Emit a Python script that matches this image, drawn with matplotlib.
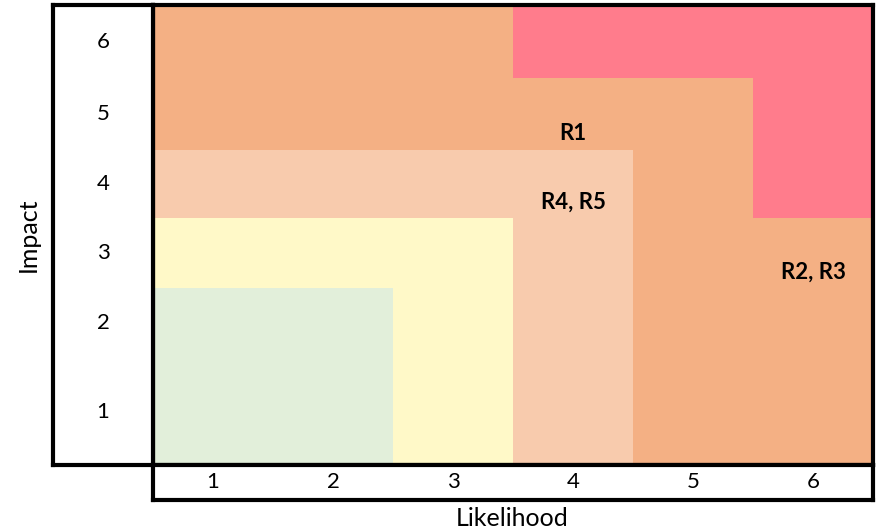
import matplotlib.pyplot as plt
import numpy as np
from matplotlib.colors import ListedColormap

# risk matrix: likelihood (x) vs impact (y)
likelihood = [1, 2, 3, 4, 5, 6]
impact = [1, 2, 3, 4, 5, 6]

# risk level per cell, rows = impact 1..6 (bottom to top), cols = likelihood 1..6
# 0 green, 1 yellow, 2 light peach, 3 peach, 4 red
levels = [
    [0, 0, 1, 2, 3, 3],
    [0, 0, 1, 2, 3, 3],
    [1, 1, 1, 2, 3, 3],
    [2, 2, 2, 2, 3, 4],
    [3, 3, 3, 3, 3, 4],
    [3, 3, 3, 4, 4, 4],
]

risk_labels = ["R1", "R4, R5", "R2, R3"]
risk_likelihood = [4, 4, 6]
risk_impact = [5, 4, 3]

colors = ["#E2EFDA", "#FFF9C8", "#F8CBAD", "#F4B084", "#FF7C8C"]

# the spreadsheet rows are not all the same height (pixels)
row_heights = [107, 70, 70, 68, 72, 73]
y_edges = np.concatenate([[0], np.cumsum(row_heights)])
y_mid = (y_edges[:-1] + y_edges[1:]) / 2
x_edges = np.arange(0.5, 7.5, 1)

plt.rcParams['font.family'] = ['Lato', 'DejaVu Sans']

W, H = 878, 532
fig = plt.figure(figsize=(W / 100, H / 100), dpi=100)

def px_axes(x0, y0, x1, y1):
    return fig.add_axes([x0 / W, 1 - y1 / H, (x1 - x0) / W, (y1 - y0) / H])

ax = px_axes(153, 5, 873, 465)
ax_left = px_axes(53, 5, 153, 465)
ax_bot = px_axes(153, 465, 873, 500)

ax.pcolormesh(x_edges, y_edges, np.array(levels), cmap=ListedColormap(colors),
              vmin=-0.5, vmax=4.5)
ax.set_xlim(0.5, 6.5)
ax.set_ylim(0, y_edges[-1])

for lab, lx, ly in zip(risk_labels, risk_likelihood, risk_impact):
    ax.annotate(lab, (lx, y_edges[ly - 1]), xytext=(0, 7), textcoords='offset points',
                ha='center', va='baseline', fontsize=16, fontweight='bold')

# impact labels in the left box
ax_left.set_xlim(0, 1)
ax_left.set_ylim(0, y_edges[-1])
for i, v in enumerate(impact):
    ax_left.text(0.5, y_mid[i], str(v), ha='center', va='center', fontsize=16)

# likelihood labels in the bottom box
ax_bot.set_xlim(0.5, 6.5)
ax_bot.set_ylim(0, 1)
for v in likelihood:
    ax_bot.text(v, 0.5, str(v), ha='center', va='center', fontsize=16)

for a in (ax, ax_left, ax_bot):
    a.set_xticks([])
    a.set_yticks([])
    for s in a.spines.values():
        s.set_linewidth(3)
        s.set_color('black')

fig.text(28 / W, 1 - 235 / H, "Impact", rotation=90, ha='center', va='center', fontsize=18)
fig.text(512 / W, 1 - 518 / H, "Likelihood", ha='center', va='center', fontsize=18)

plt.savefig("out.png", dpi=100)
